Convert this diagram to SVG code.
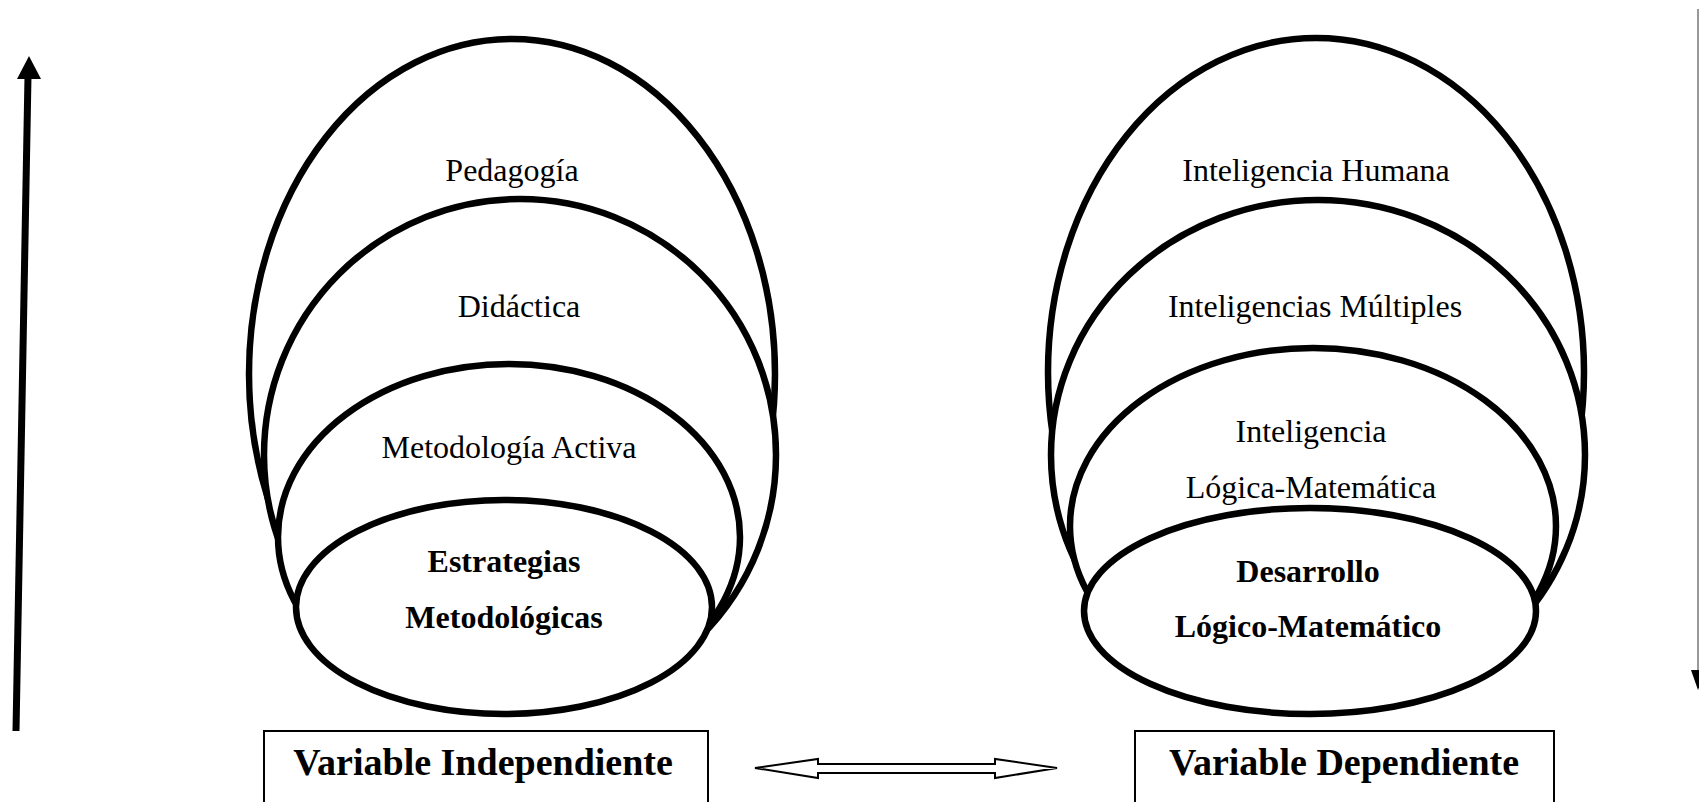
<svg xmlns="http://www.w3.org/2000/svg" width="1699" height="802" viewBox="0 0 1699 802">
  <style>
    .ring { fill: #fff; stroke: #000; stroke-width: 6.5; }
    .lbl { font-family: "Liberation Serif", "Times New Roman", serif; font-size: 32px; fill: #000; text-anchor: middle; }
    .bold { font-weight: bold; }
    .box { fill: #fff; stroke: #000; stroke-width: 2; }
    .boxlbl { font-family: "Liberation Serif", "Times New Roman", serif; font-size: 38px; font-weight: bold; fill: #000; text-anchor: middle; }
  </style>

  <!-- Independent variable: nested concepts -->
  <g id="pedagogia">
    <ellipse class="ring" cx="512" cy="374" rx="263" ry="335"/>
    <text class="lbl" x="512" y="181">Pedagogía</text>
  </g>
  <g id="didactica">
    <ellipse class="ring" cx="520" cy="455" rx="256" ry="256"/>
    <text class="lbl" x="519" y="317">Didáctica</text>
  </g>
  <g id="metodologia-activa">
    <ellipse class="ring" cx="509" cy="537" rx="231" ry="173"/>
    <text class="lbl" x="509" y="458">Metodología Activa</text>
  </g>
  <g id="estrategias">
    <ellipse class="ring" cx="504" cy="607" rx="208" ry="107"/>
    <text class="lbl bold" x="504" y="572">Estrategias</text>
    <text class="lbl bold" x="504" y="628">Metodológicas</text>
  </g>

  <!-- Dependent variable: nested concepts -->
  <g id="inteligencia-humana">
    <ellipse class="ring" cx="1316" cy="372" rx="268" ry="334"/>
    <text class="lbl" x="1316" y="181">Inteligencia Humana</text>
  </g>
  <g id="inteligencias-multiples">
    <ellipse class="ring" cx="1318" cy="455" rx="267" ry="255"/>
    <text class="lbl" x="1315" y="317">Inteligencias Múltiples</text>
  </g>
  <g id="inteligencia-lm">
    <ellipse class="ring" cx="1313" cy="526" rx="243" ry="178"/>
    <text class="lbl" x="1311" y="442">Inteligencia</text>
    <text class="lbl" x="1311" y="498">Lógica-Matemática</text>
  </g>
  <g id="desarrollo-lm">
    <ellipse class="ring" cx="1310" cy="611" rx="226" ry="103"/>
    <text class="lbl bold" x="1308" y="582">Desarrollo</text>
    <text class="lbl bold" x="1308" y="637">Lógico-Matemático</text>
  </g>

  <!-- Variable labels -->
  <g id="variable-independiente">
    <rect class="box" x="264" y="731" width="444" height="90"/>
    <text class="boxlbl" x="483" y="775">Variable Independiente</text>
  </g>
  <g id="variable-dependiente">
    <rect class="box" x="1135" y="731" width="419" height="90"/>
    <text class="boxlbl" x="1344" y="775">Variable Dependiente</text>
  </g>

  <!-- Connectors -->
  <g id="connectors">
    <!-- rising arrow on the left -->
    <line x1="16" y1="731" x2="28" y2="76" stroke="#000" stroke-width="7"/>
    <polygon points="29,56 17,79 41,79" fill="#000"/>
    <!-- descending arrow on the right -->
    <line x1="1698" y1="9" x2="1698" y2="672" stroke="#777" stroke-width="1.5"/>
    <polygon points="1691,670 1706,670 1698,690" fill="#000"/>
    <!-- two-way relation between the variables -->
    <polygon points="755,768 818,759 818,764 995,764 995,759 1057,768 995,778 995,773 818,773 818,778" fill="#fff" stroke="#000" stroke-width="2" stroke-linejoin="miter"/>
  </g>
</svg>
